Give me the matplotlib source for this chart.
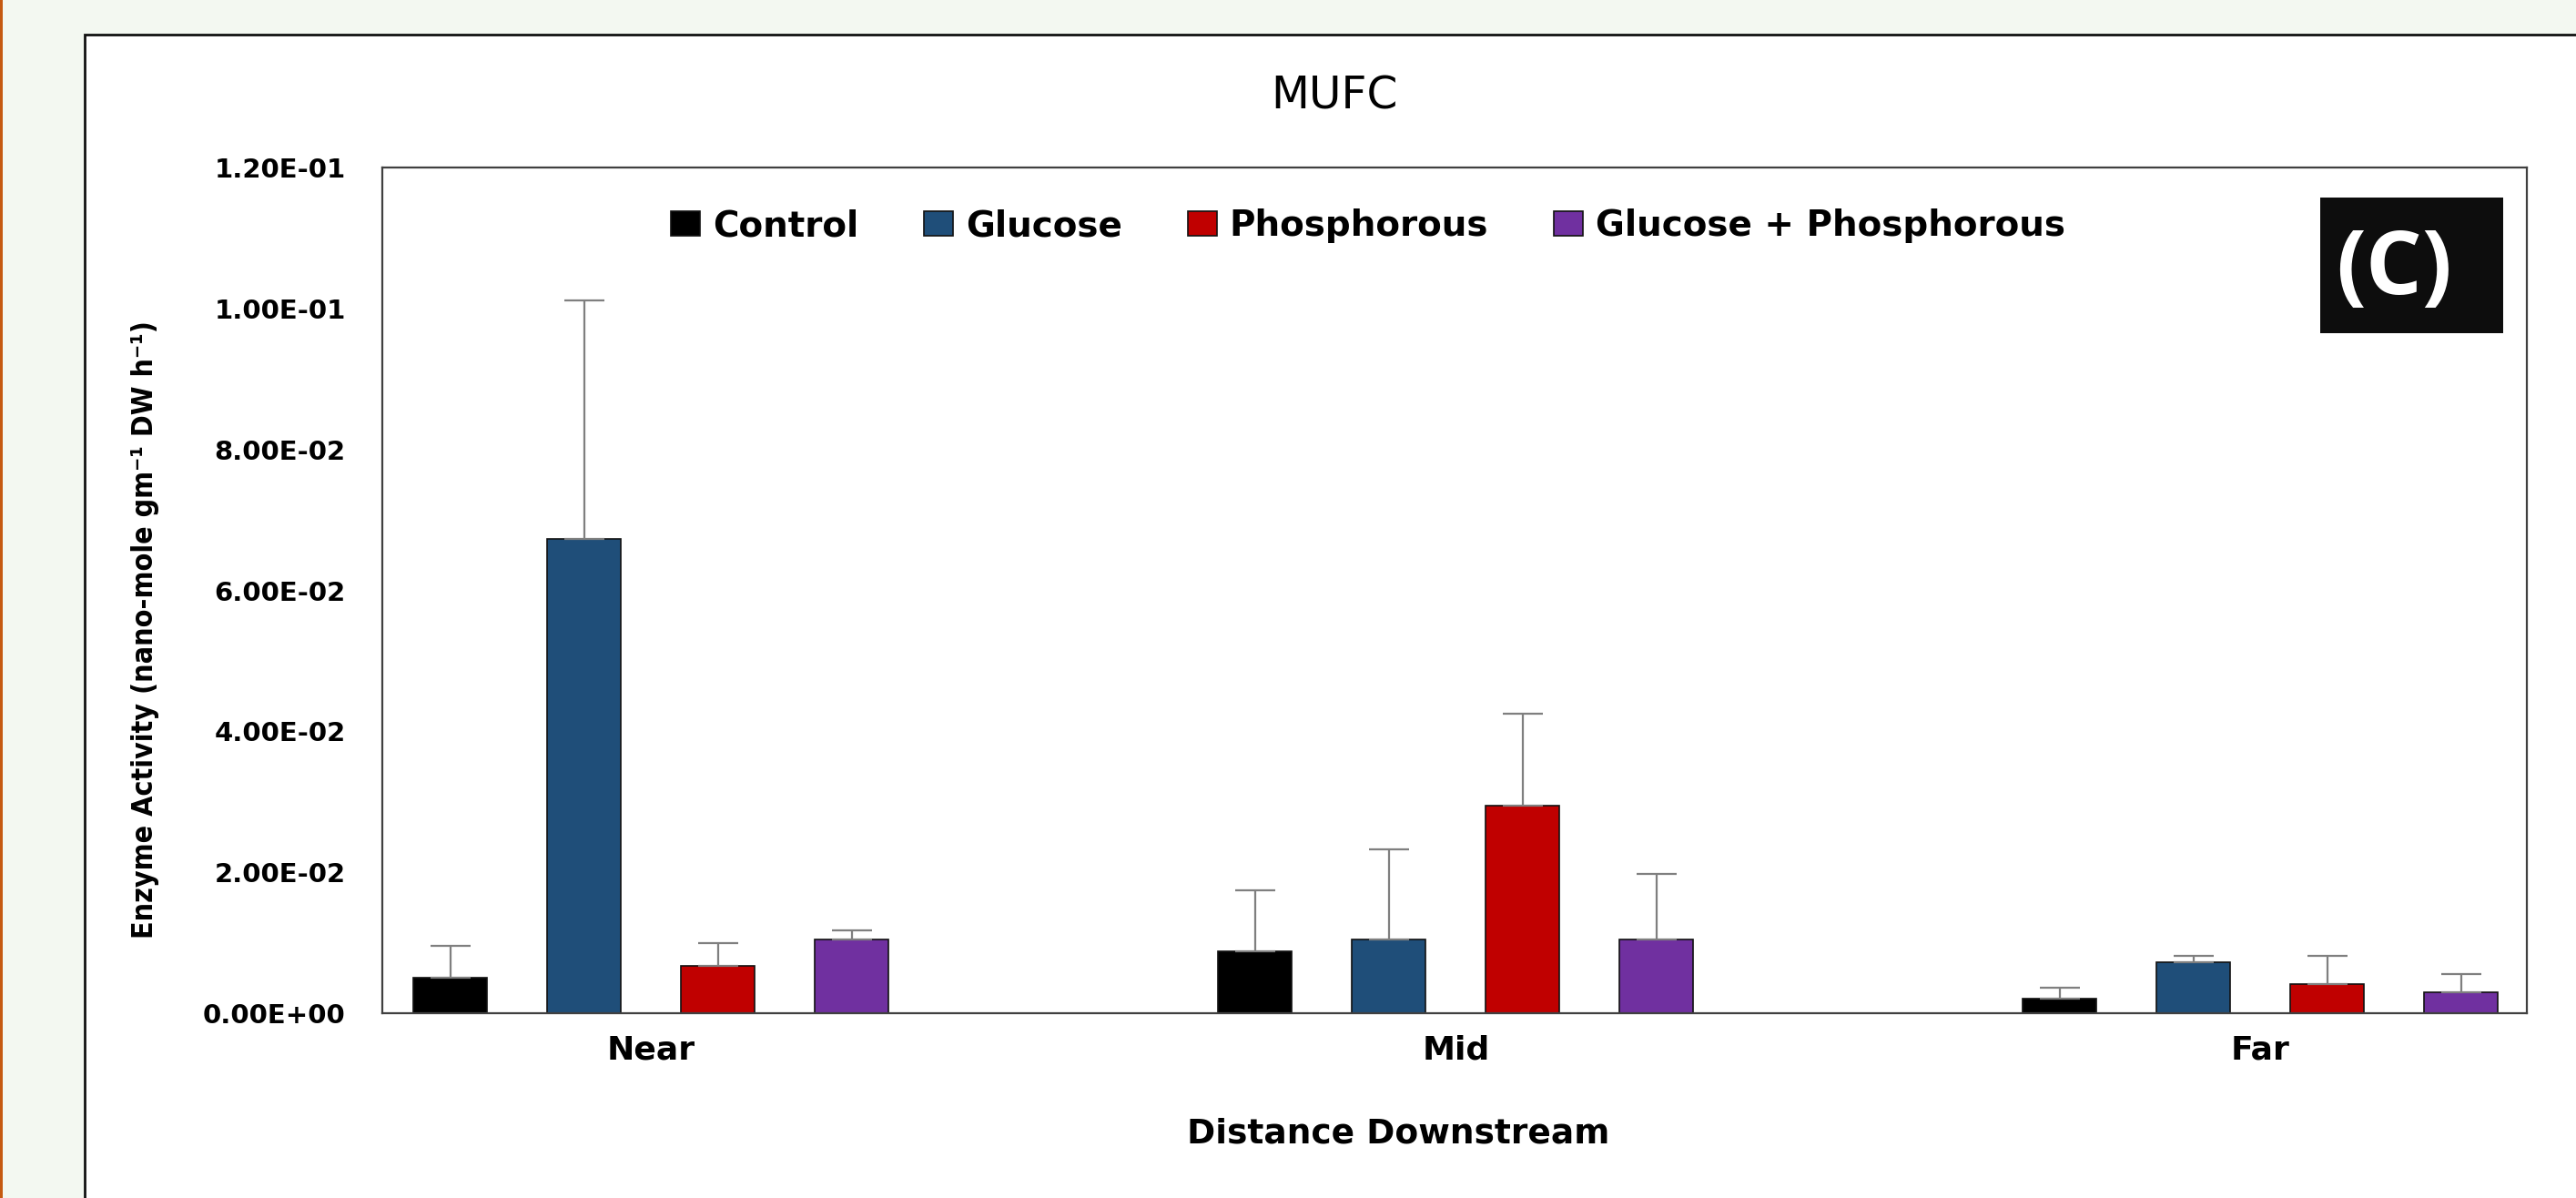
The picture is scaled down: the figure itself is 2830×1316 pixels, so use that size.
import numpy as np
import matplotlib
matplotlib.use("Agg")
import matplotlib.pyplot as plt
from matplotlib import font_manager
from matplotlib.patches import Rectangle
from matplotlib.ticker import FormatStrFormatter

# MUFC enzyme activity, mean values and upper error
categories = ["Near", "Mid", "Far"]
series = ["Control", "Glucose", "Phosphorous", "Glucose + Phosphorous"]
control = [0.0050, 0.0088, 0.0021]
control_err = [0.0045, 0.0086, 0.0015]
glucose = [0.0673, 0.0105, 0.0072]
glucose_err = [0.0338, 0.0128, 0.0010]
phosphorous = [0.0067, 0.0294, 0.0041]
phosphorous_err = [0.0032, 0.0131, 0.0040]
gluc_phos = [0.0104, 0.0105, 0.0030]
gluc_phos_err = [0.0014, 0.0093, 0.0025]
yticks = [0.0, 0.02, 0.04, 0.06, 0.08, 0.10, 0.12]

colors = ["#000000", "#1F4E79", "#C00000", "#7030A0"]
values = [control, glucose, phosphorous, gluc_phos]
errors = [control_err, glucose_err, phosphorous_err, gluc_phos_err]

# narrow font for the y label if we have one
fonts = font_manager.fontManager.ttflist
installed = {f.name for f in fonts}
ylab_kw = dict(family=["DejaVu Sans"], fontsize=22)
if "Liberation Sans Narrow" in installed:
    ylab_kw = dict(family=["Liberation Sans Narrow", "DejaVu Sans"], fontsize=29)
elif any(f.name == "DejaVu Sans" and "condensed" in str(f.stretch) for f in fonts):
    ylab_kw = dict(family=["DejaVu Sans"], fontsize=23, fontstretch="condensed")

plt.rcParams["font.family"] = ["DejaVu Sans"]

W, H = 2830, 1316
fig = plt.figure(figsize=(W / 100, H / 100), dpi=100)
fig.patch.set_facecolor("#F3F8F1")

# outer slide frame + orange edge
fig.add_artist(Rectangle((93 / W, -0.1), 1.2, 1 - 38 / H + 0.1, transform=fig.transFigure,
                         facecolor="white", edgecolor="#111111", lw=2, zorder=-2))
fig.add_artist(Rectangle((0, 0), 3 / W, 1, transform=fig.transFigure,
                         facecolor="#C55A11", edgecolor="none", zorder=-1))

ax = fig.add_axes([420 / W, 203 / H, 2356 / W, 929 / H])
ax.set_facecolor("white")

x = np.arange(len(categories))
step = 0.1663
width = 0.0916
for i, (name, vals, errs, col) in enumerate(zip(series, values, errors, colors)):
    pos = x + (i - 1.5) * step
    ax.bar(pos, vals, width, color=col, edgecolor="#111111", linewidth=1.2, label=name,
           yerr=[np.zeros(len(errs)), errs],
           error_kw=dict(ecolor="#7F7F7F", elinewidth=1.6, capsize=16, capthick=1.6),
           zorder=2)

ax.set_xlim(-0.334, 2.331)
ax.set_ylim(0, 0.12)
ax.set_yticks(yticks)
ax.yaxis.set_major_formatter(FormatStrFormatter("%.2E"))
ax.set_xticks(x)
ax.set_xticklabels(categories)
ax.tick_params(axis="y", length=0, pad=29, labelsize=21)
ax.tick_params(axis="x", length=0, pad=17, labelsize=26)
for lab in ax.get_xticklabels() + ax.get_yticklabels():
    lab.set_fontweight("bold")
for s in ax.spines.values():
    s.set_color("#404040")
    s.set_linewidth(1.6)

leg = ax.legend(loc="center", bbox_to_anchor=(1503 / W, 1 - 248 / H), bbox_transform=fig.transFigure,
                ncol=4, frameon=False, prop={"weight": "bold", "size": 28},
                handlelength=0.82, handleheight=0.67, handletextpad=0.36, columnspacing=1.85)

fig.text(1466 / W, 1 - 105 / H, "MUFC", ha="center", va="center", fontsize=35)
fig.text(1536 / W, 1 - 1245 / H, "Distance Downstream", ha="center", va="center",
         fontsize=27, fontweight="bold")
fig.text(160 / W, 1 - 692 / H, "Enzyme Activity (nano-mole gm\u207b\u00b9 DW h\u207b\u00b9)",
         ha="center", va="center", rotation=90, fontweight="bold", **ylab_kw)

# (C) panel tag
fig.add_artist(Rectangle((2549 / W, 1 - 366 / H), 201 / W, 149 / H, transform=fig.transFigure,
                         facecolor="#0D0D0D", edgecolor="none", zorder=5))
fig.text(2630 / W, 1 - 297 / H, "(C)", ha="center", va="center", color="white",
         fontsize=70, fontweight="bold", family=["Open Sans", "DejaVu Sans"], zorder=6)

fig.savefig("out.png", dpi=100, facecolor=fig.get_facecolor())
